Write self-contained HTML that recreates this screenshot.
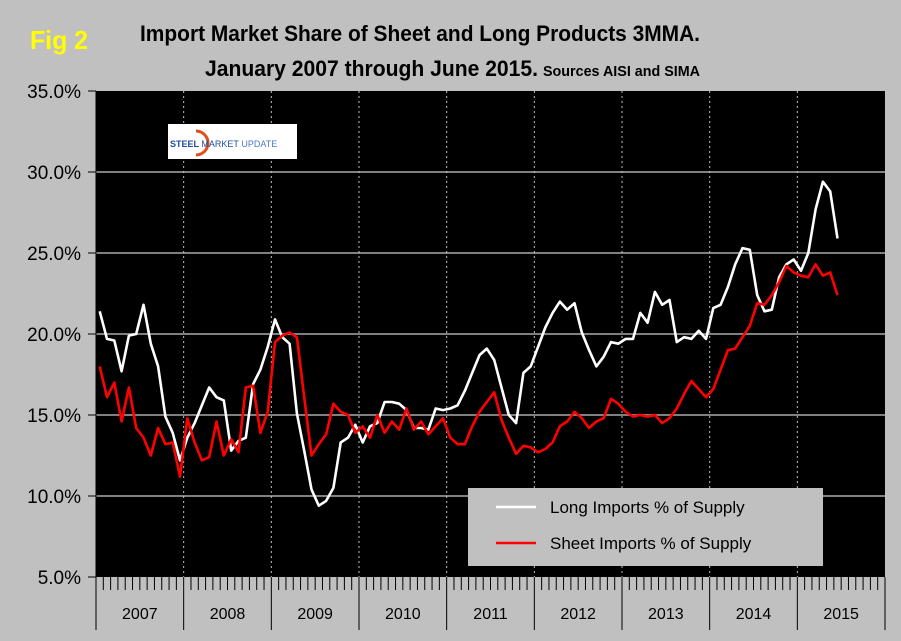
<!DOCTYPE html>
<html><head><meta charset="utf-8"><style>
body{margin:0;background:#c0c0c0;}
svg{display:block;font-family:"Liberation Sans",Arial,sans-serif;}
</style></head><body>
<svg id="chart" width="901" height="641">
<rect x="0" y="0" width="901" height="641" fill="#c0c0c0"/>
<text x="30" y="49" font-size="26" font-weight="bold" fill="#ffff00" textLength="58" lengthAdjust="spacingAndGlyphs">Fig 2</text>
<text x="140" y="41" font-size="22" font-weight="bold" fill="#000" textLength="560" lengthAdjust="spacingAndGlyphs">Import Market Share of Sheet and Long Products 3MMA.</text>
<text x="205" y="76" font-size="22" font-weight="bold" fill="#000" textLength="333" lengthAdjust="spacingAndGlyphs">January 2007 through June 2015.</text>
<text x="543" y="76" font-size="15" font-weight="bold" fill="#000" textLength="157" lengthAdjust="spacingAndGlyphs">Sources AISI and SIMA</text>
<rect x="96" y="91" width="789" height="486" fill="#000"/>
<g id="grid"></g>
<g id="axes"></g>
<g id="logo">
<rect x="168" y="124" width="129" height="35" fill="#fff"/>
<path d="M196 131 A12 12 0 1 1 196 155" stroke="#e0501a" stroke-width="3" fill="none"/>
<text x="170" y="147" font-size="9" font-weight="bold" fill="#1f4e9a">STEEL <tspan font-weight="normal">MARKET</tspan> <tspan font-weight="normal" fill="#4a78c0">UPDATE</tspan></text>
</g>
<g id="series"></g>
<g>
<rect x="468" y="488" width="355" height="78" fill="#c0c0c0"/>
<line x1="496" y1="507" x2="536" y2="507" stroke="#fff" stroke-width="2.5"/>
<text x="550" y="513" font-size="17" fill="#000">Long Imports % of Supply</text>
<line x1="496" y1="543" x2="536" y2="543" stroke="#ff0000" stroke-width="2.5"/>
<text x="550" y="549" font-size="17" fill="#000">Sheet Imports % of Supply</text>
</g>
</svg>
<script>
const years=["2007","2008","2009","2010","2011","2012","2013","2014","2015"];
const yTicks=[5,10,15,20,25,30,35];
const longImports=[21.4,19.7,19.6,17.7,19.9,20.0,21.8,19.4,18.0,14.9,13.9,12.2,13.6,14.5,15.6,16.7,16.1,15.9,12.8,13.4,13.6,16.9,17.8,19.2,20.9,19.8,19.4,15.1,12.8,10.4,9.4,9.7,10.5,13.3,13.6,14.4,13.3,14.3,14.5,15.8,15.8,15.7,15.3,14.2,14.2,14.1,15.4,15.3,15.4,15.6,16.5,17.6,18.7,19.1,18.4,16.7,15.0,14.5,17.6,18.0,19.2,20.4,21.3,22.0,21.5,21.9,20.1,19.0,18.0,18.6,19.5,19.4,19.7,19.7,21.3,20.7,22.6,21.8,22.1,19.5,19.8,19.7,20.2,19.7,21.6,21.8,22.9,24.3,25.3,25.2,22.4,21.4,21.5,23.5,24.3,24.6,23.9,25.0,27.7,29.4,28.8,25.9];
const sheetImports=[18.0,16.1,17.0,14.6,16.7,14.2,13.6,12.5,14.2,13.2,13.3,11.2,14.8,13.3,12.2,12.4,14.6,12.5,13.5,12.7,16.7,16.8,13.9,15.2,19.5,19.9,20.1,19.8,16.1,12.5,13.2,13.8,15.7,15.2,15.0,13.9,14.3,13.6,15.0,13.9,14.6,14.1,15.4,14.1,14.6,13.8,14.3,14.8,13.6,13.2,13.2,14.3,15.2,15.8,16.4,14.7,13.6,12.6,13.1,13.0,12.7,12.9,13.3,14.3,14.6,15.2,14.8,14.2,14.6,14.8,16.0,15.7,15.2,14.9,15.0,14.9,15.0,14.5,14.8,15.4,16.3,17.1,16.6,16.1,16.6,17.8,19.0,19.1,19.8,20.5,21.9,21.8,22.4,23.2,24.2,23.8,23.6,23.5,24.3,23.6,23.8,22.4];
const NS='http://www.w3.org/2000/svg';
const L=96,R=885,T=91,B=577,yMin=5,yMax=35;
const monthW=(R-L)/(years.length*12);
function xPos(i){return L+(i+0.5)*monthW;}
function yPos(v){return B-(v-yMin)/(yMax-yMin)*(B-T);}
function mk(tag,attrs,parent){const e=document.createElementNS(NS,tag);for(const k in attrs)e.setAttribute(k,attrs[k]);parent.appendChild(e);return e;}
const grid=document.getElementById('grid'),axes=document.getElementById('axes'),ser=document.getElementById('series');
yTicks.forEach(t=>{
 const y=yPos(t);
 if(t>yMin&&t<yMax){const g=mk('line',{x1:L,x2:R,y1:y,y2:y,stroke:'#808080','stroke-width':2},grid);
 
 }
 const tk=mk('line',{x1:L-8,x2:L,y1:y,y2:y,stroke:'#000'},axes);
 
 
 const tx=mk('text',{x:L-15,y:y+7,'font-size':19,'text-anchor':'end',fill:'#000'},axes);
 tx.textContent=t.toFixed(1)+'%';
 
 
});
years.forEach((yr,k)=>{
 const x0=L+k*12*monthW;
 if(k>0){const d=mk('line',{x1:x0,x2:x0,y1:T,y2:B,stroke:'#c0c0c0','stroke-dasharray':'2,3'},grid);
 
 }
 const s=mk('line',{x1:x0,x2:x0,y1:B,y2:630,stroke:'#000'},axes);
 
 
 for(let m=1;m<12;m++){const mx=x0+m*monthW;mk('line',{x1:mx,x2:mx,y1:B,y2:590,stroke:'#000'},axes);}
 const t=mk('text',{x:x0+6*monthW,y:619,'font-size':16,'text-anchor':'middle',fill:'#000'},axes);
 t.textContent=yr;
 
 
});
const ax=mk('line',{x1:R,x2:R,y1:B,y2:630,stroke:'#000'},axes);
const bl=mk('line',{x1:L,x2:L,y1:T,y2:B,stroke:'#000'},axes);
function drawLine(data,color,name){
 const p=mk('polyline',{points:data.map((v,i)=>xPos(i).toFixed(1)+','+yPos(v).toFixed(1)).join(' '),fill:'none',stroke:color,'stroke-width':2.6,'stroke-linejoin':'round'},ser);
 
 
}
drawLine(longImports,'#ffffff','long-imports-line');
drawLine(sheetImports,'#ff0000','sheet-imports-line');
</script>
</body></html>
